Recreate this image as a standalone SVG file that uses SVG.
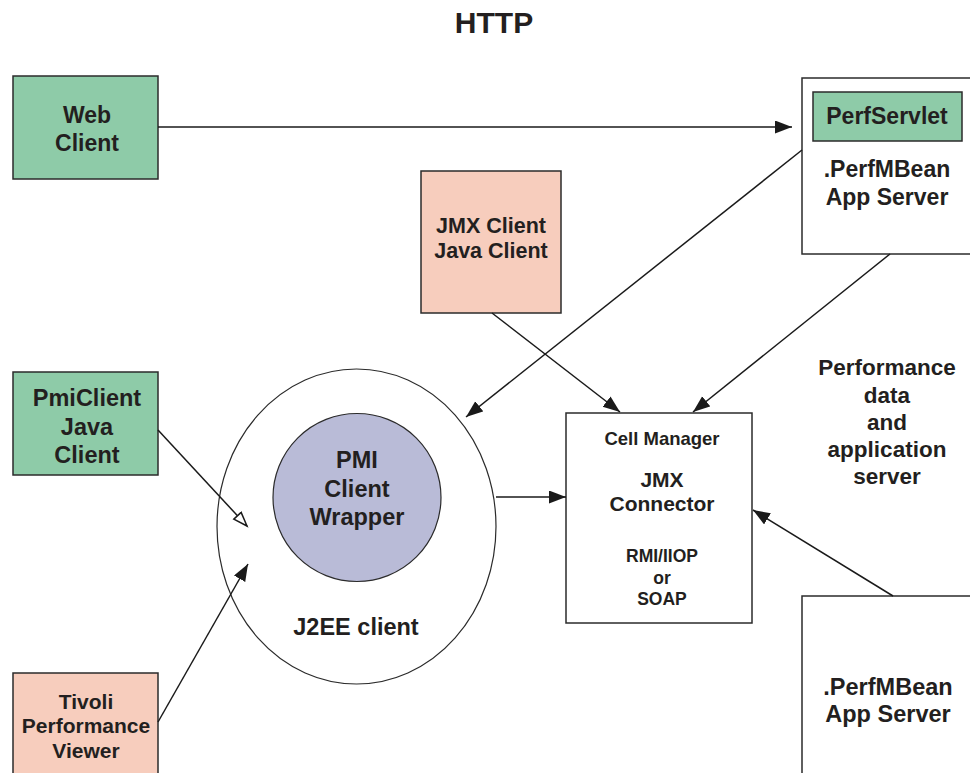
<svg xmlns="http://www.w3.org/2000/svg" width="970" height="773" viewBox="0 0 970 773">
<style>
  text { font-family: "Liberation Sans", Arial, sans-serif; font-weight: bold; fill: #231f20; text-anchor: middle; }
  .box { stroke: #2b2b2b; stroke-width: 1.5; }
  .green { fill: #8ecba8; }
  .salmon { fill: #f7cdbd; }
  .white { fill: #ffffff; }
  .conn { stroke: #1a1a1a; stroke-width: 1.5; fill: none; }
</style>
<defs>
  <marker id="arr" markerUnits="userSpaceOnUse" markerWidth="18" markerHeight="14" refX="17" refY="6.5" orient="auto">
    <path d="M0,0 L17,6.5 L0,13 z" fill="#1a1a1a"/>
  </marker>
  <marker id="open" markerUnits="userSpaceOnUse" markerWidth="18" markerHeight="14" refX="15" refY="6" orient="auto">
    <path d="M1,1 L15,6 L1,11 z" fill="#ffffff" stroke="#1a1a1a" stroke-width="1.5"/>
  </marker>
</defs>
<rect width="970" height="773" fill="#ffffff"/>
<text x="494" y="33" style="font-size:30px">HTTP</text>

<g id="web-client">
  <rect class="box green" x="13" y="76" width="145" height="103"/>
  <text x="87" y="123" style="font-size:23px">Web</text>
  <text x="87" y="151" style="font-size:23px">Client</text>
</g>

<g id="app-server-top">
  <rect class="box white" x="802" y="78" width="175" height="176"/>
  <g id="perfservlet">
    <rect class="box green" x="813" y="92" width="149" height="49"/>
    <text x="887" y="124" style="font-size:23px">PerfServlet</text>
  </g>
  <text x="887" y="177" style="font-size:23px">.PerfMBean</text>
  <text x="887" y="205" style="font-size:23px">App Server</text>
</g>

<g id="jmx-client">
  <rect class="box salmon" x="421" y="171" width="140" height="142"/>
  <text x="491" y="233" style="font-size:21.5px">JMX Client</text>
  <text x="491" y="258" style="font-size:21.5px">Java Client</text>
</g>

<g id="j2ee-client">
  <ellipse cx="356.5" cy="526.5" rx="139.5" ry="157.5" fill="#ffffff" stroke="#2b2b2b" stroke-width="1.2"/>
  <text x="356" y="635" style="font-size:23.5px">J2EE client</text>
</g>

<g id="pmi-client-wrapper">
  <circle cx="357" cy="497.5" r="84" fill="#b9bbd7" stroke="#2b2b2b" stroke-width="1.2"/>
  <text x="357" y="468" style="font-size:23.5px">PMI</text>
  <text x="357" y="497" style="font-size:23.5px">Client</text>
  <text x="357" y="525" style="font-size:23.5px">Wrapper</text>
</g>

<g id="cell-manager">
  <rect class="box white" x="566" y="413" width="186" height="210"/>
  <text x="662" y="445" style="font-size:18.5px">Cell Manager</text>
  <text x="662" y="487" style="font-size:21px">JMX</text>
  <text x="662" y="511" style="font-size:21px">Connector</text>
  <text x="662" y="562" style="font-size:17.5px">RMI/IIOP</text>
  <text x="662" y="584" style="font-size:17.5px">or</text>
  <text x="662" y="605" style="font-size:17.5px">SOAP</text>
</g>

<g id="performance-label">
  <text x="887" y="375" style="font-size:22.5px">Performance</text>
  <text x="887" y="403" style="font-size:22.5px">data</text>
  <text x="887" y="430" style="font-size:22.5px">and</text>
  <text x="887" y="457" style="font-size:22.5px">application</text>
  <text x="887" y="484" style="font-size:22.5px">server</text>
</g>

<g id="pmiclient-java-client">
  <rect class="box green" x="13" y="372" width="145" height="103"/>
  <text x="87" y="406" style="font-size:23.5px">PmiClient</text>
  <text x="87" y="435" style="font-size:23.5px">Java</text>
  <text x="87" y="463" style="font-size:23.5px">Client</text>
</g>

<g id="tivoli-performance-viewer">
  <rect class="box salmon" x="13" y="673" width="145" height="110"/>
  <text x="86" y="709" style="font-size:21px">Tivoli</text>
  <text x="86" y="733" style="font-size:21px">Performance</text>
  <text x="86" y="758" style="font-size:21px">Viewer</text>
</g>

<g id="app-server-bottom">
  <rect class="box white" x="802" y="596" width="175" height="187"/>
  <text x="888" y="695" style="font-size:23.5px">.PerfMBean</text>
  <text x="888" y="722" style="font-size:23.5px">App Server</text>
</g>

<g id="connectors">
  <line class="conn" x1="158" y1="127" x2="792" y2="127" marker-end="url(#arr)"/>
  <line class="conn" x1="802" y1="150" x2="466" y2="417" marker-end="url(#arr)"/>
  <line class="conn" x1="492" y1="313" x2="620" y2="412" marker-end="url(#arr)"/>
  <line class="conn" x1="890" y1="254" x2="693" y2="412" marker-end="url(#arr)"/>
  <line class="conn" x1="893" y1="596" x2="753" y2="510" marker-end="url(#arr)"/>
  <line class="conn" x1="496" y1="497" x2="566" y2="497" marker-end="url(#arr)"/>
  <line class="conn" x1="158" y1="430" x2="247" y2="526" marker-end="url(#open)"/>
  <line class="conn" x1="158" y1="722" x2="248" y2="564" marker-end="url(#arr)"/>
</g>
</svg>
